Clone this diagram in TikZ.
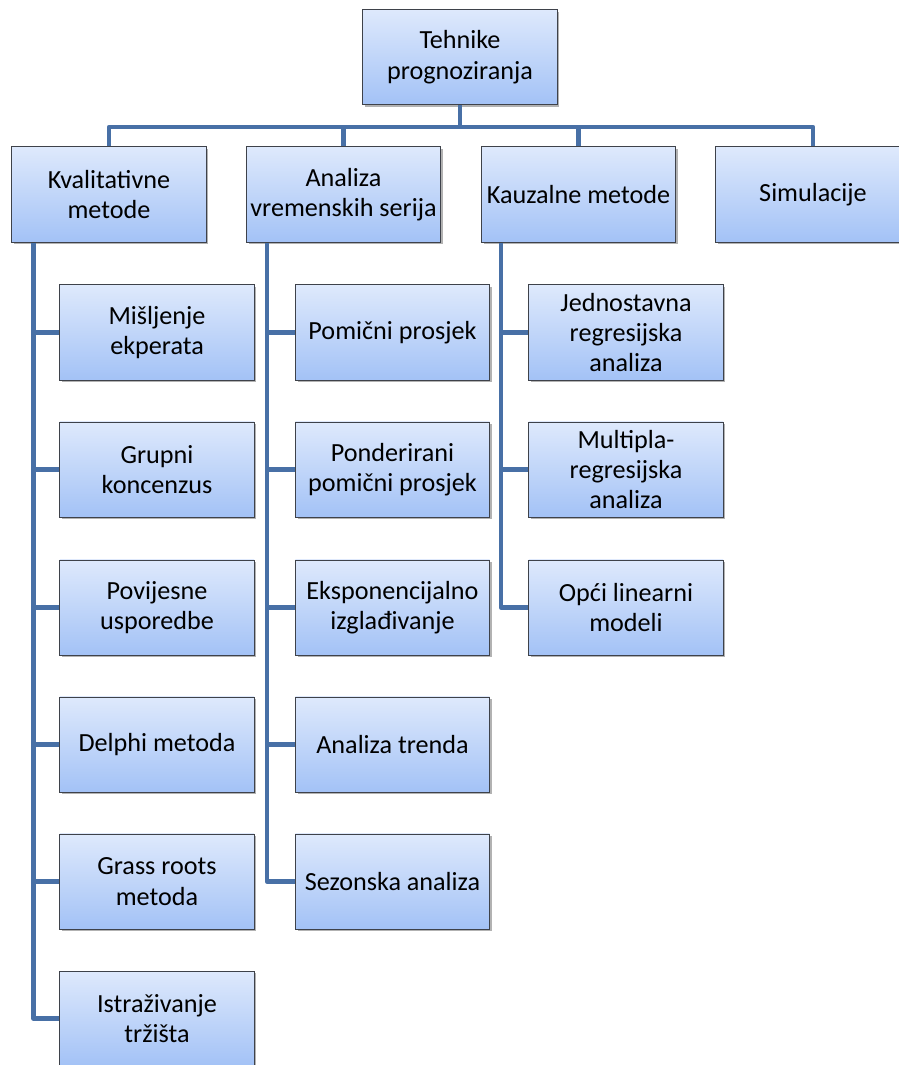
\documentclass[tikz,border=0pt]{standalone}
\usepackage{fontspec}
\setmainfont{Carlito}
\usepackage{tikz}
\usetikzlibrary{positioning,shadows}
\definecolor{boxtop}{RGB}{222,233,252}
\definecolor{boxbot}{RGB}{163,194,246}
\definecolor{boxedge}{RGB}{62,66,74}
\definecolor{linkblue}{RGB}{72,112,166}

\tikzset{
  method/.style={draw=boxedge,line width=.7pt,top color=boxtop,bottom color=boxbot,
    minimum width=4.85cm,minimum height=2.375cm,align=center,inner sep=1pt,
    drop shadow={shadow xshift=1.6pt,shadow yshift=-1.6pt,opacity=.3,fill=black}},
  link/.style={draw=linkblue,line width=3.4pt,line join=round}
}

\begin{document}
\begin{tikzpicture}[x=.025cm,y=-.025cm,font=\fontsize{18.6}{21.6}\selectfont]
  \useasboundingbox (0,0) rectangle (899,1065);
  % root and the four groups
  \node[method] (root) at (460,57) {Tehnike\\prognoziranja};
  \node[method] (kval) at (109,194.5) {Kvalitativne\\metode};
  \node[method] (vrem) at (343.5,194.5) {Analiza\\vremenskih serija};
  \node[method] (kauz) at (578.5,194.5) {Kauzalne metode};
  \node[method] (simul) at (813,194.5) {Simulacije};
  \coordinate (bus) at (0,127);

  % qualitative methods
  \node[method] (misl) at (157,332.5) {Mišljenje\\ekperata};
  \node[method] (grup) at (157,469.5) {Grupni\\koncenzus};
  \node[method] (povi) at (157,607.5) {Povijesne\\usporedbe};
  \node[method] (delp) at (157,744.5) {Delphi metoda};
  \node[method] (gras) at (157,881.5) {Grass roots\\metoda};
  \node[method] (istr) at (157,1018.5) {Istraživanje\\tržišta};

  % time series
  \node[method] (pomi) at (392.5,332.5) {Pomični prosjek};
  \node[method] (pond) at (392.5,469.5) {Ponderirani\\pomični prosjek};
  \node[method] (eksp) at (392.5,607.5) {Eksponencijalno\\izglađivanje};
  \node[method] (tren) at (392.5,744.5) {Analiza trenda};
  \node[method] (sezo) at (392.5,881.5) {Sezonska analiza};

  % causal methods
  \node[method] (jedn) at (626,332.5) {Jednostavna\\regresijska\\analiza};
  \node[method] (mult) at (626,469.5) {Multipla-\\regresijska\\analiza};
  \node[method] (opci) at (626,607.5) {Opći linearni\\modeli};

  % connectors
  \draw[link] (root.south) -- (root.south |- bus);
  \draw[link] (kval.north) -- (kval.north |- bus) -- (simul.north |- bus) -- (simul.north);
  \draw[link] (vrem.north) -- (vrem.north |- bus);
  \draw[link] (kauz.north) -- (kauz.north |- bus);
  \coordinate (kt) at ([xshift=.55cm]kval.south west);
  \coordinate (vt) at ([xshift=.525cm]vrem.south west);
  \coordinate (ct) at ([xshift=.5cm]kauz.south west);
  \draw[link] (kt) |- (istr.west);
  \draw[link] (kt |- misl) -- (misl.west);
  \draw[link] (kt |- grup) -- (grup.west);
  \draw[link] (kt |- povi) -- (povi.west);
  \draw[link] (kt |- delp) -- (delp.west);
  \draw[link] (kt |- gras) -- (gras.west);
  \draw[link] (vt) |- (sezo.west);
  \draw[link] (vt |- pomi) -- (pomi.west);
  \draw[link] (vt |- pond) -- (pond.west);
  \draw[link] (vt |- eksp) -- (eksp.west);
  \draw[link] (vt |- tren) -- (tren.west);
  \draw[link] (ct) |- (opci.west);
  \draw[link] (ct |- jedn) -- (jedn.west);
  \draw[link] (ct |- mult) -- (mult.west);
\end{tikzpicture}
\end{document}
